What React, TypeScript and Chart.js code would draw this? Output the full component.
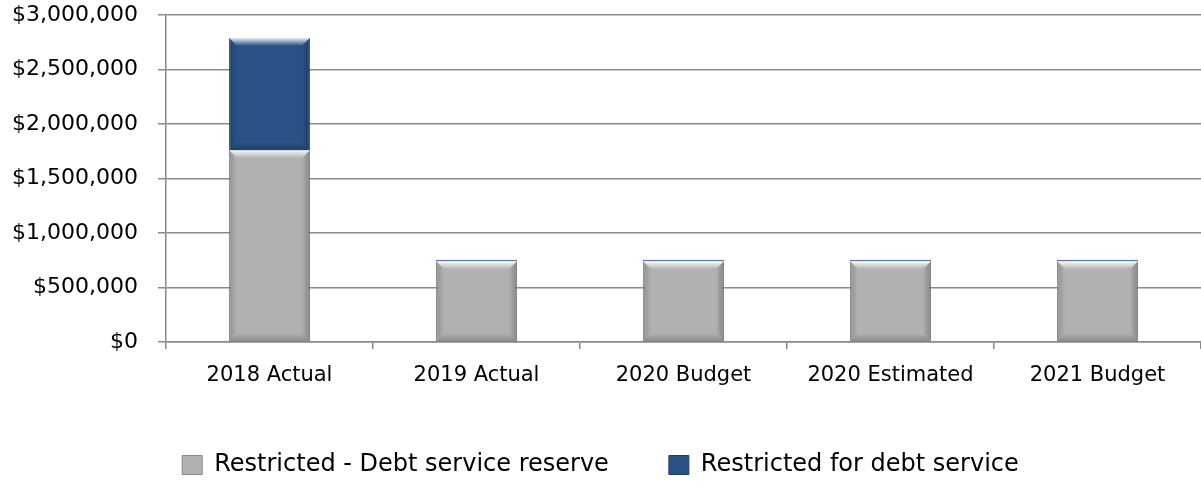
import React, { useEffect, useRef } from "react";
import { Chart, registerables } from "chart.js";

Chart.register(...registerables);

const categories = ["2018 Actual", "2019 Actual", "2020 Budget", "2020 Estimated", "2021 Budget"];
const reserveValues = [1760000, 740000, 740000, 740000, 740000];
const debtServiceValues = [1030000, 15000, 15000, 15000, 15000];
const seriesNames = ["Restricted - Debt service reserve", "Restricted for debt service"];
const yTicks = [0, 500000, 1000000, 1500000, 2000000, 2500000, 3000000];

const FONT = "'DejaVu Sans', sans-serif";
const LEGEND_PAD = 60;
const BOTTOM_PAD = -4;

const bevelPlugin = {
  id: "bevel",
  afterDatasetsDraw(chart: any) {
    const ctx = chart.ctx;
    chart.data.datasets.forEach((_: any, di: number) => {
      const meta = chart.getDatasetMeta(di);
      meta.data.forEach((el: any) => {
        const w = el.width;
        const left = el.x - w / 2;
        const right = el.x + w / 2;
        const top = Math.min(el.y, el.base);
        const bottom = Math.max(el.y, el.base);
        const h = bottom - top;
        if (h < 5) return;
        const b = Math.min(8, h / 4);
        ctx.save();
        let g = ctx.createLinearGradient(0, top, 0, top + b);
        g.addColorStop(0, "rgba(255,255,255,0.9)");
        g.addColorStop(1, "rgba(255,255,255,0)");
        ctx.fillStyle = g;
        ctx.beginPath();
        ctx.moveTo(left, top);
        ctx.lineTo(right, top);
        ctx.lineTo(right - b, top + b);
        ctx.lineTo(left + b, top + b);
        ctx.closePath();
        ctx.fill();
        g = ctx.createLinearGradient(left, 0, left + b, 0);
        g.addColorStop(0, "rgba(0,0,0,0.18)");
        g.addColorStop(1, "rgba(0,0,0,0)");
        ctx.fillStyle = g;
        ctx.beginPath();
        ctx.moveTo(left, top);
        ctx.lineTo(left + b, top + b);
        ctx.lineTo(left + b, bottom - b);
        ctx.lineTo(left, bottom);
        ctx.closePath();
        ctx.fill();
        g = ctx.createLinearGradient(right, 0, right - b, 0);
        g.addColorStop(0, "rgba(0,0,0,0.25)");
        g.addColorStop(1, "rgba(0,0,0,0)");
        ctx.fillStyle = g;
        ctx.beginPath();
        ctx.moveTo(right, top);
        ctx.lineTo(right - b, top + b);
        ctx.lineTo(right - b, bottom - b);
        ctx.lineTo(right, bottom);
        ctx.closePath();
        ctx.fill();
        g = ctx.createLinearGradient(0, bottom, 0, bottom - b);
        g.addColorStop(0, "rgba(0,0,0,0.22)");
        g.addColorStop(1, "rgba(0,0,0,0)");
        ctx.fillStyle = g;
        ctx.beginPath();
        ctx.moveTo(left, bottom);
        ctx.lineTo(right, bottom);
        ctx.lineTo(right - b, bottom - b);
        ctx.lineTo(left + b, bottom - b);
        ctx.closePath();
        ctx.fill();
        ctx.restore();
      });
    });
  },
};

export default function App() {
  const ref = useRef<HTMLCanvasElement | null>(null);
  useEffect(() => {
    document.body.style.margin = "0";
    const ctx = ref.current!.getContext("2d")!;
    const chart = new Chart(ctx, {
      type: "bar",
      data: {
        labels: categories,
        datasets: [
          {
            label: seriesNames[0],
            data: reserveValues,
            backgroundColor: "#b1b1b1",
            borderColor: "#8a8a8a",
            borderWidth: 1,
            categoryPercentage: 1,
            barPercentage: 0.39,
          },
          {
            label: seriesNames[1],
            data: debtServiceValues,
            backgroundColor: "#2a5186",
            borderColor: "#1f3f6c",
            borderWidth: 1,
            categoryPercentage: 1,
            barPercentage: 0.39,
          },
        ],
      },
      plugins: [bevelPlugin],
      options: {
        animation: false,
        responsive: false,
        maintainAspectRatio: false,
        layout: { padding: { top: 15, right: 0, bottom: BOTTOM_PAD, left: 0 } },
        plugins: {
          tooltip: { enabled: false },
          legend: {
            position: "bottom",
            labels: {
              color: "#000",
              font: { family: FONT, size: 24 },
              boxWidth: 20,
              boxHeight: 19,
              padding: LEGEND_PAD,
            },
          },
        },
        scales: {
          x: {
            stacked: true,
            grid: {
              offset: true,
              drawOnChartArea: false,
              drawTicks: true,
              tickLength: 7,
              color: "#8a8a8a",
              lineWidth: 1.5,
            },
            border: { color: "#8a8a8a", width: 1.5 },
            ticks: { color: "#000", font: { family: FONT, size: 21 }, padding: 14 },
            afterFit: (s: any) => {
              s.height = 483 - BOTTOM_PAD - 34 - LEGEND_PAD - 342;
            },
          },
          y: {
            stacked: true,
            min: 0,
            max: 3000000,
            afterBuildTicks: (s: any) => {
              s.ticks = yTicks.map((v) => ({ value: v }));
            },
            ticks: {
              color: "#000",
              padding: 20,
              font: { family: FONT, size: 22 },
              callback: (v: any) => "$" + Number(v).toLocaleString("en-US"),
            },
            grid: { color: "#8a8a8a", lineWidth: 1.5, tickLength: 8 },
            border: { color: "#8a8a8a", width: 1.5 },
            afterFit: (s: any) => {
              s.width = 166;
              s.paddingTop = 0;
              s.paddingBottom = 0;
            },
          },
        },
      },
    });
    return () => chart.destroy();
  }, []);
  return (
    <div style={{ position: "absolute", left: 0, top: 0, width: 1201, height: 483 }}>
      <canvas ref={ref} width={1201} height={483} />
    </div>
  );
}
